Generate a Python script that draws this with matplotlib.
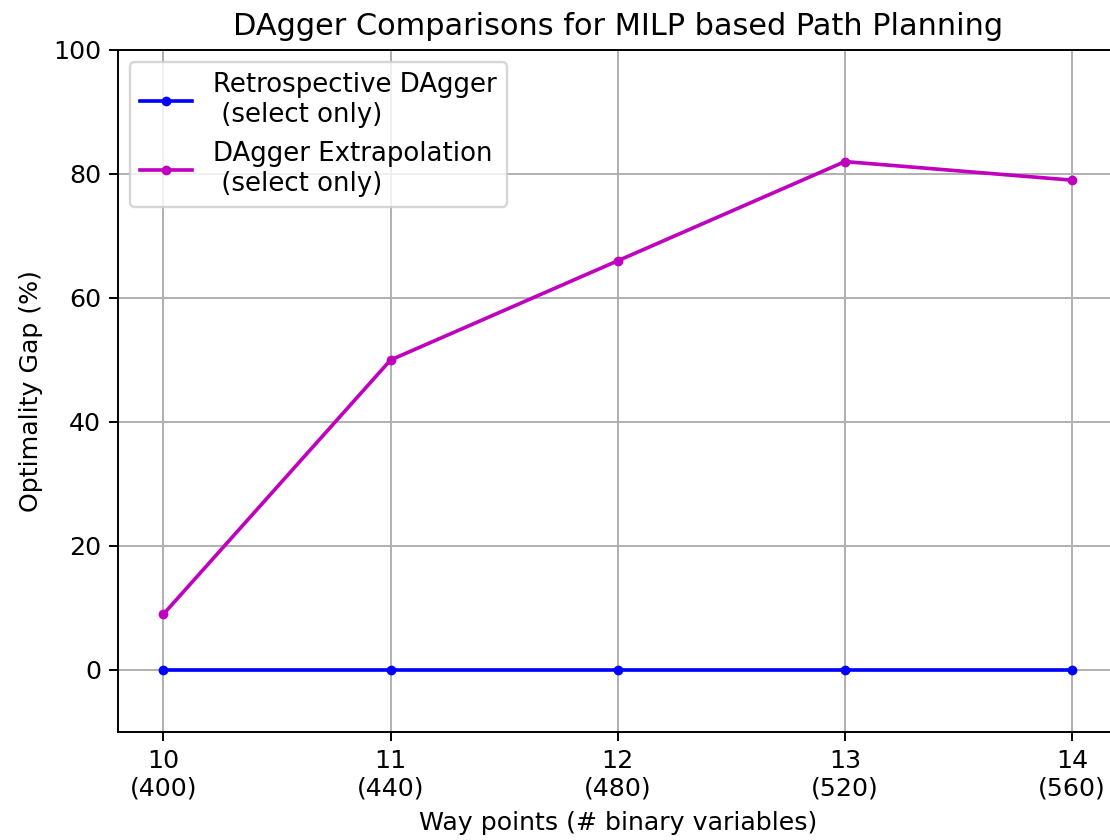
import numpy as np
import matplotlib
matplotlib.use('Agg')
import matplotlib.pyplot as plt

waypoints = [10, 11, 12, 13, 14]
binary_vars = [400, 440, 480, 520, 560]
retro_gap = [0, 0, 0, 0, 0]
extrap_gap = [9, 50, 66, 82, 79]

plt.rcParams['font.size'] = 10.4
plt.rcParams['axes.titlesize'] = 12.5

dpi = 175
fig = plt.figure(figsize=(1110 / dpi, 840 / dpi), dpi=dpi)
# axes runs slightly past the right edge of the canvas
ax = fig.add_axes([0.1063, 0.1286, 0.9005, 0.8119])

ax.plot(waypoints, retro_gap, color='b', marker='.',
        label='Retrospective DAgger\n (select only)')
ax.plot(waypoints, extrap_gap, color='m', marker='.',
        label='DAgger Extrapolation\n (select only)')

ax.set_xticks(waypoints)
ax.set_xticklabels(['{}\n({})'.format(w, b) for w, b in zip(waypoints, binary_vars)])
ax.set_xlim(9.8, 14.2)
ax.set_ylim(-10, 100)
ax.set_yticks([0, 20, 40, 60, 80, 100])
ax.grid(True)

ax.set_title('DAgger Comparisons for MILP based Path Planning')
ax.set_xlabel('Way points (# binary variables)')
ax.set_ylabel('Optimality Gap (%)')
ax.legend(loc='upper left', fontsize=10.7, borderaxespad=0.45)

fig.savefig('out.png', dpi=dpi)
